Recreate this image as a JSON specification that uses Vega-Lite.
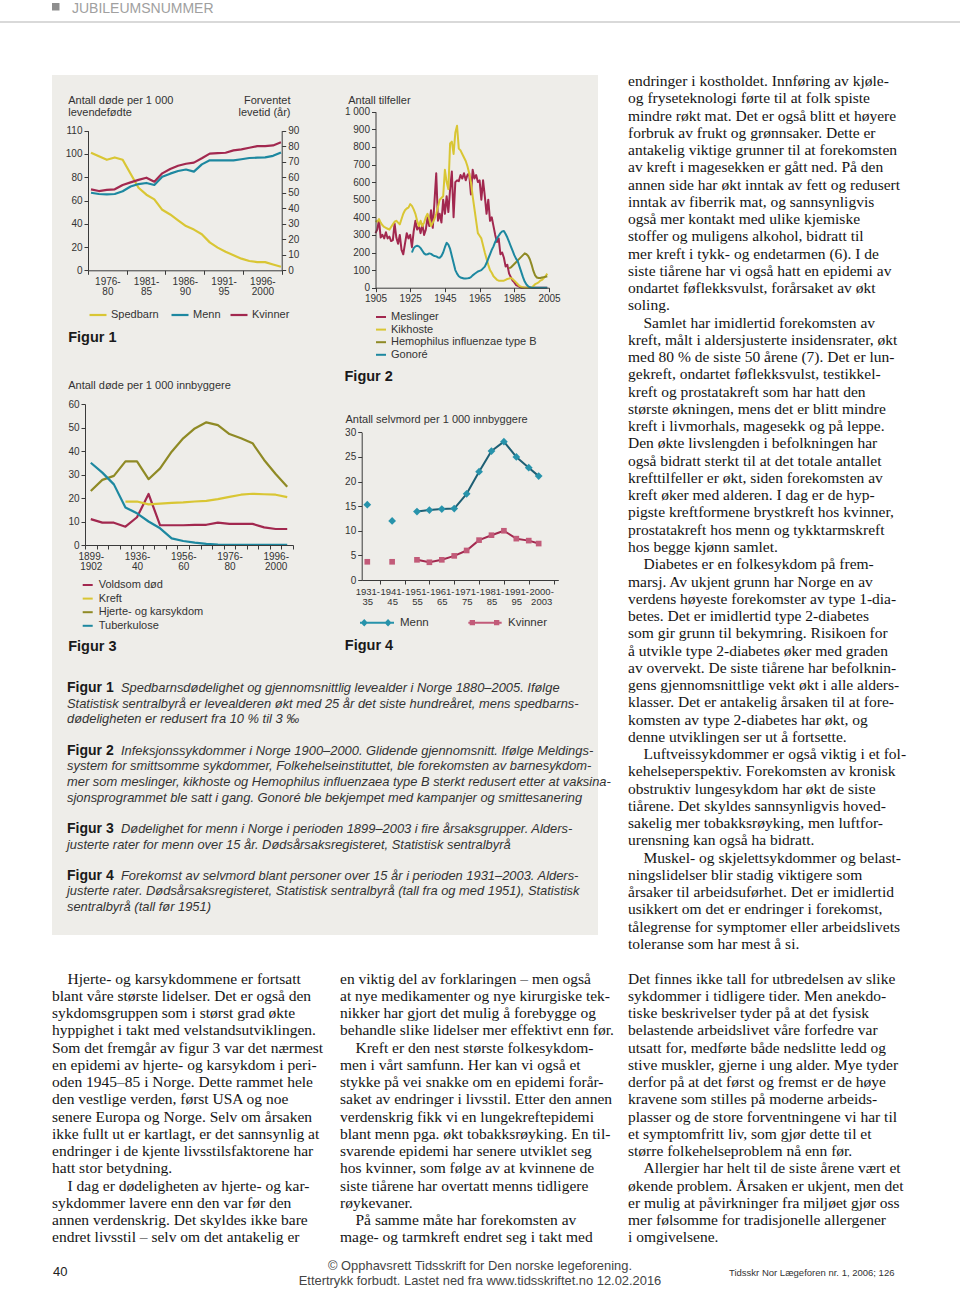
{
  "$schema": "https://vega.github.io/schema/vega-lite/v6.json",
  "width": 960,
  "height": 1289,
  "autosize": {"type": "none"},
  "padding": 0,
  "background": "#ffffff",
  "config": {
    "view": {"stroke": null},
    "axis": {"labelFont": "Liberation Sans", "labelFontSize": 10, "labelColor": "#333333", "titleFont": "Liberation Sans", "titleFontSize": 11, "titleFontWeight": "normal", "titleColor": "#333333", "domainColor": "#3a3a3a", "tickColor": "#3a3a3a", "tickSize": 4, "grid": false, "labelPadding": 2, "labelOverlap": false, "labelFlush": false, "titleAngle": 0, "titleLineHeight": 12, "labelLineHeight": 10},
    "legend": {"labelFont": "Liberation Sans", "labelFontSize": 11, "labelColor": "#333333", "padding": 0}
  },
  "datasets": {
    "fig1": [
      {"år": 1976, "Spedbarn": 101, "Menn": 50, "Kvinner": 52.2},
      {"år": 1977, "Spedbarn": 98, "Menn": 49.2, "Kvinner": 51.1},
      {"år": 1978, "Spedbarn": 95, "Menn": 49, "Kvinner": 51.8},
      {"år": 1979, "Spedbarn": 97, "Menn": 49.2, "Kvinner": 52.2},
      {"år": 1980, "Spedbarn": 95, "Menn": 51, "Kvinner": 55},
      {"år": 1981, "Spedbarn": 83, "Menn": 54, "Kvinner": 56.7},
      {"år": 1982, "Spedbarn": 71, "Menn": 55.6, "Kvinner": 58.3},
      {"år": 1983, "Spedbarn": 65, "Menn": 56.3, "Kvinner": 59.7},
      {"år": 1984, "Spedbarn": 61, "Menn": 55, "Kvinner": 57.1},
      {"år": 1985, "Spedbarn": 52, "Menn": 60.3, "Kvinner": 62.5},
      {"år": 1986, "Spedbarn": 48, "Menn": 62.3, "Kvinner": 65.3},
      {"år": 1987, "Spedbarn": 43, "Menn": 64, "Kvinner": 67.4},
      {"år": 1988, "Spedbarn": 38, "Menn": 65, "Kvinner": 68.7},
      {"år": 1989, "Spedbarn": 35, "Menn": 63.6, "Kvinner": 69.4},
      {"år": 1990, "Spedbarn": 31, "Menn": 68.3, "Kvinner": 72.2},
      {"år": 1991, "Spedbarn": 24, "Menn": 70.9, "Kvinner": 75.2},
      {"år": 1992, "Spedbarn": 19.5, "Menn": 70.9, "Kvinner": 75.6},
      {"år": 1993, "Spedbarn": 16, "Menn": 70.9, "Kvinner": 75.8},
      {"år": 1994, "Spedbarn": 13, "Menn": 70.9, "Kvinner": 77.3},
      {"år": 1995, "Spedbarn": 10, "Menn": 71.6, "Kvinner": 78},
      {"år": 1996, "Spedbarn": 8, "Menn": 72.4, "Kvinner": 79},
      {"år": 1997, "Spedbarn": 7, "Menn": 72.6, "Kvinner": 80.1},
      {"år": 1998, "Spedbarn": 7, "Menn": 72.8, "Kvinner": 80.1},
      {"år": 1999, "Spedbarn": 5, "Menn": 73.8, "Kvinner": 80.5},
      {"år": 2000, "Spedbarn": 3, "Menn": 76, "Kvinner": 82.5}
    ],
    "fig2": [
      {"år": 1905, "Meslinger": 310, "Kikhoste": 380, "Hemophilus influenzae type B": null, "Gonoré": null},
      {"år": 1906, "Meslinger": 330, "Kikhoste": 375, "Hemophilus influenzae type B": null, "Gonoré": null},
      {"år": 1907, "Meslinger": 385, "Kikhoste": 390, "Hemophilus influenzae type B": null, "Gonoré": null},
      {"år": 1908, "Meslinger": 285, "Kikhoste": 370, "Hemophilus influenzae type B": null, "Gonoré": null},
      {"år": 1909, "Meslinger": 300, "Kikhoste": 355, "Hemophilus influenzae type B": null, "Gonoré": null},
      {"år": 1910, "Meslinger": 280, "Kikhoste": 345, "Hemophilus influenzae type B": null, "Gonoré": null},
      {"år": 1911, "Meslinger": 315, "Kikhoste": 340, "Hemophilus influenzae type B": null, "Gonoré": null},
      {"år": 1912, "Meslinger": 280, "Kikhoste": 335, "Hemophilus influenzae type B": null, "Gonoré": null},
      {"år": 1913, "Meslinger": 290, "Kikhoste": 330, "Hemophilus influenzae type B": null, "Gonoré": null},
      {"år": 1914, "Meslinger": 265, "Kikhoste": 345, "Hemophilus influenzae type B": null, "Gonoré": null},
      {"år": 1915, "Meslinger": 270, "Kikhoste": 360, "Hemophilus influenzae type B": null, "Gonoré": null},
      {"år": 1916, "Meslinger": 365, "Kikhoste": 375, "Hemophilus influenzae type B": null, "Gonoré": null},
      {"år": 1917, "Meslinger": 285, "Kikhoste": 380, "Hemophilus influenzae type B": null, "Gonoré": null},
      {"år": 1918, "Meslinger": 250, "Kikhoste": 370, "Hemophilus influenzae type B": null, "Gonoré": null},
      {"år": 1919, "Meslinger": 300, "Kikhoste": 360, "Hemophilus influenzae type B": null, "Gonoré": null},
      {"år": 1920, "Meslinger": 215, "Kikhoste": 390, "Hemophilus influenzae type B": null, "Gonoré": null},
      {"år": 1921, "Meslinger": 190, "Kikhoste": 420, "Hemophilus influenzae type B": null, "Gonoré": null},
      {"år": 1922, "Meslinger": 250, "Kikhoste": 440, "Hemophilus influenzae type B": null, "Gonoré": null},
      {"år": 1923, "Meslinger": 310, "Kikhoste": 450, "Hemophilus influenzae type B": null, "Gonoré": null},
      {"år": 1924, "Meslinger": 280, "Kikhoste": 455, "Hemophilus influenzae type B": null, "Gonoré": null},
      {"år": 1925, "Meslinger": 300, "Kikhoste": 475, "Hemophilus influenzae type B": null, "Gonoré": null},
      {"år": 1926, "Meslinger": 230, "Kikhoste": 465, "Hemophilus influenzae type B": null, "Gonoré": 200},
      {"år": 1927, "Meslinger": 320, "Kikhoste": 445, "Hemophilus influenzae type B": null, "Gonoré": 225},
      {"år": 1928, "Meslinger": 380, "Kikhoste": 420, "Hemophilus influenzae type B": null, "Gonoré": 235},
      {"år": 1929, "Meslinger": 330, "Kikhoste": 380, "Hemophilus influenzae type B": null, "Gonoré": 238},
      {"år": 1930, "Meslinger": 350, "Kikhoste": 350, "Hemophilus influenzae type B": null, "Gonoré": 235},
      {"år": 1931, "Meslinger": 310, "Kikhoste": 380, "Hemophilus influenzae type B": null, "Gonoré": 225},
      {"år": 1932, "Meslinger": 360, "Kikhoste": 350, "Hemophilus influenzae type B": null, "Gonoré": 210},
      {"år": 1933, "Meslinger": 300, "Kikhoste": 370, "Hemophilus influenzae type B": null, "Gonoré": 195},
      {"år": 1934, "Meslinger": 330, "Kikhoste": 400, "Hemophilus influenzae type B": null, "Gonoré": 188},
      {"år": 1935, "Meslinger": 400, "Kikhoste": 420, "Hemophilus influenzae type B": null, "Gonoré": 190},
      {"år": 1936, "Meslinger": 350, "Kikhoste": 390, "Hemophilus influenzae type B": null, "Gonoré": 195},
      {"år": 1937, "Meslinger": 440, "Kikhoste": 350, "Hemophilus influenzae type B": null, "Gonoré": 192},
      {"år": 1938, "Meslinger": 340, "Kikhoste": 370, "Hemophilus influenzae type B": null, "Gonoré": 185},
      {"år": 1939, "Meslinger": 490, "Kikhoste": 390, "Hemophilus influenzae type B": null, "Gonoré": 180},
      {"år": 1940, "Meslinger": 650, "Kikhoste": 420, "Hemophilus influenzae type B": null, "Gonoré": 178},
      {"år": 1941, "Meslinger": 380, "Kikhoste": 460, "Hemophilus influenzae type B": null, "Gonoré": 172},
      {"år": 1942, "Meslinger": 420, "Kikhoste": 500, "Hemophilus influenzae type B": null, "Gonoré": 170},
      {"år": 1943, "Meslinger": 370, "Kikhoste": 510, "Hemophilus influenzae type B": null, "Gonoré": 180},
      {"år": 1944, "Meslinger": 500, "Kikhoste": 520, "Hemophilus influenzae type B": null, "Gonoré": 200},
      {"år": 1945, "Meslinger": 420, "Kikhoste": 670, "Hemophilus influenzae type B": null, "Gonoré": 230},
      {"år": 1946, "Meslinger": 520, "Kikhoste": 600, "Hemophilus influenzae type B": null, "Gonoré": 255},
      {"år": 1947, "Meslinger": 430, "Kikhoste": 560, "Hemophilus influenzae type B": null, "Gonoré": 245},
      {"år": 1948, "Meslinger": 560, "Kikhoste": 820, "Hemophilus influenzae type B": null, "Gonoré": 220},
      {"år": 1949, "Meslinger": 660, "Kikhoste": 830, "Hemophilus influenzae type B": null, "Gonoré": 180},
      {"år": 1950, "Meslinger": 400, "Kikhoste": 760, "Hemophilus influenzae type B": null, "Gonoré": 140},
      {"år": 1951, "Meslinger": 600, "Kikhoste": 880, "Hemophilus influenzae type B": null, "Gonoré": 100},
      {"år": 1952, "Meslinger": 610, "Kikhoste": 920, "Hemophilus influenzae type B": null, "Gonoré": 80},
      {"år": 1953, "Meslinger": 605, "Kikhoste": 790, "Hemophilus influenzae type B": null, "Gonoré": 65},
      {"år": 1954, "Meslinger": 640, "Kikhoste": 780, "Hemophilus influenzae type B": null, "Gonoré": 58},
      {"år": 1955, "Meslinger": 620, "Kikhoste": 760, "Hemophilus influenzae type B": null, "Gonoré": 55},
      {"år": 1956, "Meslinger": 650, "Kikhoste": 740, "Hemophilus influenzae type B": null, "Gonoré": 52},
      {"år": 1957, "Meslinger": 610, "Kikhoste": 720, "Hemophilus influenzae type B": null, "Gonoré": 52},
      {"år": 1958, "Meslinger": 640, "Kikhoste": 690, "Hemophilus influenzae type B": null, "Gonoré": 53},
      {"år": 1959, "Meslinger": 650, "Kikhoste": 650, "Hemophilus influenzae type B": null, "Gonoré": 55},
      {"år": 1960, "Meslinger": 530, "Kikhoste": 600, "Hemophilus influenzae type B": null, "Gonoré": 60},
      {"år": 1961, "Meslinger": 670, "Kikhoste": 520, "Hemophilus influenzae type B": null, "Gonoré": 70},
      {"år": 1962, "Meslinger": 620, "Kikhoste": 450, "Hemophilus influenzae type B": null, "Gonoré": 78},
      {"år": 1963, "Meslinger": 640, "Kikhoste": 380, "Hemophilus influenzae type B": null, "Gonoré": 85},
      {"år": 1964, "Meslinger": 600, "Kikhoste": 310, "Hemophilus influenzae type B": null, "Gonoré": 92},
      {"år": 1965, "Meslinger": 610, "Kikhoste": 295, "Hemophilus influenzae type B": null, "Gonoré": 96},
      {"år": 1966, "Meslinger": 500, "Kikhoste": 280, "Hemophilus influenzae type B": null, "Gonoré": 100},
      {"år": 1967, "Meslinger": 610, "Kikhoste": 240, "Hemophilus influenzae type B": null, "Gonoré": 110},
      {"år": 1968, "Meslinger": 520, "Kikhoste": 200, "Hemophilus influenzae type B": null, "Gonoré": 120},
      {"år": 1969, "Meslinger": 420, "Kikhoste": 165, "Hemophilus influenzae type B": null, "Gonoré": 140},
      {"år": 1970, "Meslinger": 500, "Kikhoste": 130, "Hemophilus influenzae type B": null, "Gonoré": 165},
      {"år": 1971, "Meslinger": 380, "Kikhoste": 100, "Hemophilus influenzae type B": null, "Gonoré": 190},
      {"år": 1972, "Meslinger": 400, "Kikhoste": 85, "Hemophilus influenzae type B": null, "Gonoré": 215},
      {"år": 1973, "Meslinger": 350, "Kikhoste": 65, "Hemophilus influenzae type B": null, "Gonoré": 235},
      {"år": 1974, "Meslinger": 300, "Kikhoste": 55, "Hemophilus influenzae type B": null, "Gonoré": 260},
      {"år": 1975, "Meslinger": 260, "Kikhoste": 45, "Hemophilus influenzae type B": null, "Gonoré": 280},
      {"år": 1976, "Meslinger": 280, "Kikhoste": 40, "Hemophilus influenzae type B": null, "Gonoré": 295},
      {"år": 1977, "Meslinger": 190, "Kikhoste": 40, "Hemophilus influenzae type B": null, "Gonoré": 310},
      {"år": 1978, "Meslinger": 200, "Kikhoste": 40, "Hemophilus influenzae type B": null, "Gonoré": 320},
      {"år": 1979, "Meslinger": 170, "Kikhoste": 40, "Hemophilus influenzae type B": null, "Gonoré": 322},
      {"år": 1980, "Meslinger": 120, "Kikhoste": 45, "Hemophilus influenzae type B": null, "Gonoré": 305},
      {"år": 1981, "Meslinger": 130, "Kikhoste": 50, "Hemophilus influenzae type B": null, "Gonoré": 285},
      {"år": 1982, "Meslinger": 80, "Kikhoste": 52, "Hemophilus influenzae type B": 110, "Gonoré": 260},
      {"år": 1983, "Meslinger": 60, "Kikhoste": 55, "Hemophilus influenzae type B": 115, "Gonoré": 235},
      {"år": 1984, "Meslinger": 40, "Kikhoste": 50, "Hemophilus influenzae type B": 125, "Gonoré": 210},
      {"år": 1985, "Meslinger": 30, "Kikhoste": 40, "Hemophilus influenzae type B": 135, "Gonoré": 185},
      {"år": 1986, "Meslinger": 15, "Kikhoste": 30, "Hemophilus influenzae type B": 145, "Gonoré": 165},
      {"år": 1987, "Meslinger": 10, "Kikhoste": 20, "Hemophilus influenzae type B": 155, "Gonoré": 150},
      {"år": 1988, "Meslinger": 5, "Kikhoste": 10, "Hemophilus influenzae type B": 165, "Gonoré": 120},
      {"år": 1989, "Meslinger": 0, "Kikhoste": 5, "Hemophilus influenzae type B": 175, "Gonoré": 90},
      {"år": 1990, "Meslinger": 0, "Kikhoste": 2, "Hemophilus influenzae type B": 185, "Gonoré": 60},
      {"år": 1991, "Meslinger": 0, "Kikhoste": 0, "Hemophilus influenzae type B": 195, "Gonoré": 35},
      {"år": 1992, "Meslinger": 0, "Kikhoste": 0, "Hemophilus influenzae type B": 190, "Gonoré": 18},
      {"år": 1993, "Meslinger": 0, "Kikhoste": 0, "Hemophilus influenzae type B": 180, "Gonoré": 8},
      {"år": 1994, "Meslinger": 0, "Kikhoste": 0, "Hemophilus influenzae type B": 160, "Gonoré": 2},
      {"år": 1995, "Meslinger": 0, "Kikhoste": 0, "Hemophilus influenzae type B": 130, "Gonoré": 0},
      {"år": 1996, "Meslinger": 0, "Kikhoste": 10, "Hemophilus influenzae type B": 95, "Gonoré": 0},
      {"år": 1997, "Meslinger": 0, "Kikhoste": 20, "Hemophilus influenzae type B": 70, "Gonoré": 0},
      {"år": 1998, "Meslinger": 0, "Kikhoste": 25, "Hemophilus influenzae type B": 58, "Gonoré": 0},
      {"år": 1999, "Meslinger": 0, "Kikhoste": 30, "Hemophilus influenzae type B": 55, "Gonoré": 0},
      {"år": 2000, "Meslinger": 0, "Kikhoste": 40, "Hemophilus influenzae type B": 55, "Gonoré": 0},
      {"år": 2001, "Meslinger": 0, "Kikhoste": 45, "Hemophilus influenzae type B": 58, "Gonoré": 0},
      {"år": 2002, "Meslinger": 0, "Kikhoste": 55, "Hemophilus influenzae type B": 60, "Gonoré": 0},
      {"år": 2003, "Meslinger": 0, "Kikhoste": 65, "Hemophilus influenzae type B": 62, "Gonoré": 0},
      {"år": 2004, "Meslinger": 0, "Kikhoste": 80, "Hemophilus influenzae type B": 65, "Gonoré": 0}
    ],
    "fig3": [
      {"periode": "1899-1902", "Voldsom død": 11, "Kreft": null, "Hjerte- og karsykdom": 23, "Tuberkulose": 35},
      {"periode": "1911-15", "Voldsom død": 9.5, "Kreft": null, "Hjerte- og karsykdom": 27.7, "Tuberkulose": 30.8},
      {"periode": "1921-25", "Voldsom død": 9.5, "Kreft": null, "Hjerte- og karsykdom": 29.4, "Tuberkulose": 25.8},
      {"periode": "1931-35", "Voldsom død": 7.8, "Kreft": 18.5, "Hjerte- og karsykdom": 35.6, "Tuberkulose": 16},
      {"periode": "1936-40", "Voldsom død": 11.8, "Kreft": 18.5, "Hjerte- og karsykdom": 35.6, "Tuberkulose": 13.5},
      {"periode": "1941-45", "Voldsom død": 21.7, "Kreft": 17.3, "Hjerte- og karsykdom": 28, "Tuberkulose": 10},
      {"periode": "1946-50", "Voldsom død": 8.4, "Kreft": 17.6, "Hjerte- og karsykdom": 32.6, "Tuberkulose": 7.1},
      {"periode": "1951-55", "Voldsom død": 8.4, "Kreft": 17.9, "Hjerte- og karsykdom": 39.7, "Tuberkulose": 2.8},
      {"periode": "1956-60", "Voldsom død": 8.4, "Kreft": 18.1, "Hjerte- og karsykdom": 45.4, "Tuberkulose": 1.7},
      {"periode": "1961-65", "Voldsom død": 8.6, "Kreft": 18.5, "Hjerte- og karsykdom": 49.6, "Tuberkulose": 1},
      {"periode": "1966-70", "Voldsom død": 8.6, "Kreft": 18.8, "Hjerte- og karsykdom": 52.2, "Tuberkulose": 0.5},
      {"periode": "1971-75", "Voldsom død": 9.5, "Kreft": 19.5, "Hjerte- og karsykdom": 51, "Tuberkulose": 0.2},
      {"periode": "1976-80", "Voldsom død": 9, "Kreft": 20.5, "Hjerte- og karsykdom": 47.2, "Tuberkulose": 0.1},
      {"periode": "1981-85", "Voldsom død": 9, "Kreft": 21.4, "Hjerte- og karsykdom": 45.4, "Tuberkulose": 0.1},
      {"periode": "1986-90", "Voldsom død": 9, "Kreft": 21.8, "Hjerte- og karsykdom": 43.3, "Tuberkulose": 0.1},
      {"periode": "1991-95", "Voldsom død": 7.5, "Kreft": 21.6, "Hjerte- og karsykdom": 36.2, "Tuberkulose": 0.1},
      {"periode": "1996-2000", "Voldsom død": 6.8, "Kreft": 21.4, "Hjerte- og karsykdom": 30.2, "Tuberkulose": 0.1},
      {"periode": "2001-03", "Voldsom død": 6.8, "Kreft": 20.4, "Hjerte- og karsykdom": 24.8, "Tuberkulose": 0.1}
    ],
    "fig4": [
      {"start": 1931, "periode": "1931-35", "Menn": 15.3, "Kvinner": 3.7},
      {"start": 1941, "periode": "1941-45", "Menn": 12, "Kvinner": 3.7},
      {"start": 1951, "periode": "1951-55", "Menn": 13.9, "Kvinner": 4.1},
      {"start": 1956, "periode": "1956-60", "Menn": 14.2, "Kvinner": 3.6},
      {"start": 1961, "periode": "1961-65", "Menn": 14.4, "Kvinner": 4.1},
      {"start": 1966, "periode": "1966-70", "Menn": 14.5, "Kvinner": 4.9},
      {"start": 1971, "periode": "1971-75", "Menn": 17.5, "Kvinner": 6},
      {"start": 1976, "periode": "1976-80", "Menn": 22, "Kvinner": 8.1},
      {"start": 1981, "periode": "1981-85", "Menn": 26.2, "Kvinner": 9.1},
      {"start": 1986, "periode": "1986-90", "Menn": 28.1, "Kvinner": 10},
      {"start": 1991, "periode": "1991-95", "Menn": 25, "Kvinner": 8.4},
      {"start": 1996, "periode": "1996-99", "Menn": 22.8, "Kvinner": 8},
      {"start": 2000, "periode": "2000-2003", "Menn": 21.1, "Kvinner": 7.4}
    ],
    "brodtekst": [
      {"spalte": 2, "linje": 0, "avsnitt": false, "tekst": "endringer i kostholdet. Innføring av kjøle-"},
      {"spalte": 2, "linje": 1, "avsnitt": false, "tekst": "og fryseteknologi førte til at folk spiste"},
      {"spalte": 2, "linje": 2, "avsnitt": false, "tekst": "mindre røkt mat. Det er også blitt et høyere"},
      {"spalte": 2, "linje": 3, "avsnitt": false, "tekst": "forbruk av frukt og grønnsaker. Dette er"},
      {"spalte": 2, "linje": 4, "avsnitt": false, "tekst": "antakelig viktige grunner til at forekomsten"},
      {"spalte": 2, "linje": 5, "avsnitt": false, "tekst": "av kreft i magesekken er gått ned. På den"},
      {"spalte": 2, "linje": 6, "avsnitt": false, "tekst": "annen side har økt inntak av fett og redusert"},
      {"spalte": 2, "linje": 7, "avsnitt": false, "tekst": "inntak av fiberrik mat, og sannsynligvis"},
      {"spalte": 2, "linje": 8, "avsnitt": false, "tekst": "også mer kontakt med ulike kjemiske"},
      {"spalte": 2, "linje": 9, "avsnitt": false, "tekst": "stoffer og muligens alkohol, bidratt til"},
      {"spalte": 2, "linje": 10, "avsnitt": false, "tekst": "mer kreft i tykk- og endetarmen (6). I de"},
      {"spalte": 2, "linje": 11, "avsnitt": false, "tekst": "siste tiårene har vi også hatt en epidemi av"},
      {"spalte": 2, "linje": 12, "avsnitt": false, "tekst": "ondartet føflekksvulst, forårsaket av økt"},
      {"spalte": 2, "linje": 13, "avsnitt": false, "tekst": "soling."},
      {"spalte": 2, "linje": 14, "avsnitt": true, "tekst": "Samlet har imidlertid forekomsten av"},
      {"spalte": 2, "linje": 15, "avsnitt": false, "tekst": "kreft, målt i aldersjusterte insidensrater, økt"},
      {"spalte": 2, "linje": 16, "avsnitt": false, "tekst": "med 80 % de siste 50 årene (7). Det er lun-"},
      {"spalte": 2, "linje": 17, "avsnitt": false, "tekst": "gekreft, ondartet føflekksvulst, testikkel-"},
      {"spalte": 2, "linje": 18, "avsnitt": false, "tekst": "kreft og prostatakreft som har hatt den"},
      {"spalte": 2, "linje": 19, "avsnitt": false, "tekst": "største økningen, mens det er blitt mindre"},
      {"spalte": 2, "linje": 20, "avsnitt": false, "tekst": "kreft i livmorhals, magesekk og på leppe."},
      {"spalte": 2, "linje": 21, "avsnitt": false, "tekst": "Den økte livslengden i befolkningen har"},
      {"spalte": 2, "linje": 22, "avsnitt": false, "tekst": "også bidratt sterkt til at det totale antallet"},
      {"spalte": 2, "linje": 23, "avsnitt": false, "tekst": "krefttilfeller er økt, siden forekomsten av"},
      {"spalte": 2, "linje": 24, "avsnitt": false, "tekst": "kreft øker med alderen. I dag er de hyp-"},
      {"spalte": 2, "linje": 25, "avsnitt": false, "tekst": "pigste kreftformene brystkreft hos kvinner,"},
      {"spalte": 2, "linje": 26, "avsnitt": false, "tekst": "prostatakreft hos menn og tykktarmskreft"},
      {"spalte": 2, "linje": 27, "avsnitt": false, "tekst": "hos begge kjønn samlet."},
      {"spalte": 2, "linje": 28, "avsnitt": true, "tekst": "Diabetes er en folkesykdom på frem-"},
      {"spalte": 2, "linje": 29, "avsnitt": false, "tekst": "marsj. Av ukjent grunn har Norge en av"},
      {"spalte": 2, "linje": 30, "avsnitt": false, "tekst": "verdens høyeste forekomster av type 1-dia-"},
      {"spalte": 2, "linje": 31, "avsnitt": false, "tekst": "betes. Det er imidlertid type 2-diabetes"},
      {"spalte": 2, "linje": 32, "avsnitt": false, "tekst": "som gir grunn til bekymring. Risikoen for"},
      {"spalte": 2, "linje": 33, "avsnitt": false, "tekst": "å utvikle type 2-diabetes øker med graden"},
      {"spalte": 2, "linje": 34, "avsnitt": false, "tekst": "av overvekt. De siste tiårene har befolknin-"},
      {"spalte": 2, "linje": 35, "avsnitt": false, "tekst": "gens gjennomsnittlige vekt økt i alle alders-"},
      {"spalte": 2, "linje": 36, "avsnitt": false, "tekst": "klasser. Det er antakelig årsaken til at fore-"},
      {"spalte": 2, "linje": 37, "avsnitt": false, "tekst": "komsten av type 2-diabetes har økt, og"},
      {"spalte": 2, "linje": 38, "avsnitt": false, "tekst": "denne utviklingen ser ut å fortsette."},
      {"spalte": 2, "linje": 39, "avsnitt": true, "tekst": "Luftveissykdommer er også viktig i et fol-"},
      {"spalte": 2, "linje": 40, "avsnitt": false, "tekst": "kehelseperspektiv. Forekomsten av kronisk"},
      {"spalte": 2, "linje": 41, "avsnitt": false, "tekst": "obstruktiv lungesykdom har økt de siste"},
      {"spalte": 2, "linje": 42, "avsnitt": false, "tekst": "tiårene. Det skyldes sannsynligvis hoved-"},
      {"spalte": 2, "linje": 43, "avsnitt": false, "tekst": "sakelig mer tobakksrøyking, men luftfor-"},
      {"spalte": 2, "linje": 44, "avsnitt": false, "tekst": "urensning kan også ha bidratt."},
      {"spalte": 2, "linje": 45, "avsnitt": true, "tekst": "Muskel- og skjelettsykdommer og belast-"},
      {"spalte": 2, "linje": 46, "avsnitt": false, "tekst": "ningslidelser blir stadig viktigere som"},
      {"spalte": 2, "linje": 47, "avsnitt": false, "tekst": "årsaker til arbeidsuførhet. Det er imidlertid"},
      {"spalte": 2, "linje": 48, "avsnitt": false, "tekst": "usikkert om det er endringer i forekomst,"},
      {"spalte": 2, "linje": 49, "avsnitt": false, "tekst": "tålegrense for symptomer eller arbeidslivets"},
      {"spalte": 2, "linje": 50, "avsnitt": false, "tekst": "toleranse som har mest å si."},
      {"spalte": 0, "linje": 52, "avsnitt": true, "tekst": "Hjerte- og karsykdommene er fortsatt"},
      {"spalte": 0, "linje": 53, "avsnitt": false, "tekst": "blant våre største lidelser. Det er også den"},
      {"spalte": 0, "linje": 54, "avsnitt": false, "tekst": "sykdomsgruppen som i størst grad økte"},
      {"spalte": 0, "linje": 55, "avsnitt": false, "tekst": "hyppighet i takt med velstandsutviklingen."},
      {"spalte": 0, "linje": 56, "avsnitt": false, "tekst": "Som det fremgår av figur 3 var det nærmest"},
      {"spalte": 0, "linje": 57, "avsnitt": false, "tekst": "en epidemi av hjerte- og karsykdom i peri-"},
      {"spalte": 0, "linje": 58, "avsnitt": false, "tekst": "oden 1945–85 i Norge. Dette rammet hele"},
      {"spalte": 0, "linje": 59, "avsnitt": false, "tekst": "den vestlige verden, først USA og noe"},
      {"spalte": 0, "linje": 60, "avsnitt": false, "tekst": "senere Europa og Norge. Selv om årsaken"},
      {"spalte": 0, "linje": 61, "avsnitt": false, "tekst": "ikke fullt ut er kartlagt, er det sannsynlig at"},
      {"spalte": 0, "linje": 62, "avsnitt": false, "tekst": "endringer i de kjente livsstilsfaktorene har"},
      {"spalte": 0, "linje": 63, "avsnitt": false, "tekst": "hatt stor betydning."},
      {"spalte": 0, "linje": 64, "avsnitt": true, "tekst": "I dag er dødeligheten av hjerte- og kar-"},
      {"spalte": 0, "linje": 65, "avsnitt": false, "tekst": "sykdommer lavere enn den var før den"},
      {"spalte": 0, "linje": 66, "avsnitt": false, "tekst": "annen verdenskrig. Det skyldes ikke bare"},
      {"spalte": 0, "linje": 67, "avsnitt": false, "tekst": "endret livsstil – selv om det antakelig er"},
      {"spalte": 1, "linje": 52, "avsnitt": false, "tekst": "en viktig del av forklaringen – men også"},
      {"spalte": 1, "linje": 53, "avsnitt": false, "tekst": "at nye medikamenter og nye kirurgiske tek-"},
      {"spalte": 1, "linje": 54, "avsnitt": false, "tekst": "nikker har gjort det mulig å forebygge og"},
      {"spalte": 1, "linje": 55, "avsnitt": false, "tekst": "behandle slike lidelser mer effektivt enn før."},
      {"spalte": 1, "linje": 56, "avsnitt": true, "tekst": "Kreft er den nest største folkesykdom-"},
      {"spalte": 1, "linje": 57, "avsnitt": false, "tekst": "men i vårt samfunn. Her kan vi også et"},
      {"spalte": 1, "linje": 58, "avsnitt": false, "tekst": "stykke på vei snakke om en epidemi forår-"},
      {"spalte": 1, "linje": 59, "avsnitt": false, "tekst": "saket av endringer i livsstil. Etter den annen"},
      {"spalte": 1, "linje": 60, "avsnitt": false, "tekst": "verdenskrig fikk vi en lungekreftepidemi"},
      {"spalte": 1, "linje": 61, "avsnitt": false, "tekst": "blant menn pga. økt tobakksrøyking. En til-"},
      {"spalte": 1, "linje": 62, "avsnitt": false, "tekst": "svarende epidemi har senere utviklet seg"},
      {"spalte": 1, "linje": 63, "avsnitt": false, "tekst": "hos kvinner, som følge av at kvinnene de"},
      {"spalte": 1, "linje": 64, "avsnitt": false, "tekst": "siste tiårene har overtatt menns tidligere"},
      {"spalte": 1, "linje": 65, "avsnitt": false, "tekst": "røykevaner."},
      {"spalte": 1, "linje": 66, "avsnitt": true, "tekst": "På samme måte har forekomsten av"},
      {"spalte": 1, "linje": 67, "avsnitt": false, "tekst": "mage- og tarmkreft endret seg i takt med"},
      {"spalte": 2, "linje": 52, "avsnitt": false, "tekst": "Det finnes ikke tall for utbredelsen av slike"},
      {"spalte": 2, "linje": 53, "avsnitt": false, "tekst": "sykdommer i tidligere tider. Men anekdo-"},
      {"spalte": 2, "linje": 54, "avsnitt": false, "tekst": "tiske beskrivelser tyder på at det fysisk"},
      {"spalte": 2, "linje": 55, "avsnitt": false, "tekst": "belastende arbeidslivet våre forfedre var"},
      {"spalte": 2, "linje": 56, "avsnitt": false, "tekst": "utsatt for, medførte både nedslitte ledd og"},
      {"spalte": 2, "linje": 57, "avsnitt": false, "tekst": "stive muskler, gjerne i ung alder. Mye tyder"},
      {"spalte": 2, "linje": 58, "avsnitt": false, "tekst": "derfor på at det først og fremst er de høye"},
      {"spalte": 2, "linje": 59, "avsnitt": false, "tekst": "kravene som stilles på moderne arbeids-"},
      {"spalte": 2, "linje": 60, "avsnitt": false, "tekst": "plasser og de store forventningene vi har til"},
      {"spalte": 2, "linje": 61, "avsnitt": false, "tekst": "et symptomfritt liv, som gjør dette til et"},
      {"spalte": 2, "linje": 62, "avsnitt": false, "tekst": "større folkehelseproblem nå enn før."},
      {"spalte": 2, "linje": 63, "avsnitt": true, "tekst": "Allergier har helt til de siste årene vært et"},
      {"spalte": 2, "linje": 64, "avsnitt": false, "tekst": "økende problem. Årsaken er ukjent, men det"},
      {"spalte": 2, "linje": 65, "avsnitt": false, "tekst": "er mulig at påvirkninger fra miljøet gjør oss"},
      {"spalte": 2, "linje": 66, "avsnitt": false, "tekst": "mer følsomme for tradisjonelle allergener"},
      {"spalte": 2, "linje": 67, "avsnitt": false, "tekst": "i omgivelsene."}
    ],
    "bildetekst": [
      {"figur": "Figur 1", "linje": 0, "rad": 0, "tekst": "Spedbarnsdødelighet og gjennomsnittlig levealder i Norge 1880–2005. Ifølge"},
      {"figur": "Figur 1", "linje": 1, "rad": 1, "tekst": "Statistisk sentralbyrå er levealderen økt med 25 år det siste hundreåret, mens spedbarns-"},
      {"figur": "Figur 1", "linje": 2, "rad": 2, "tekst": "dødeligheten er redusert fra 10 % til 3 ‰"},
      {"figur": "Figur 2", "linje": 0, "rad": 4, "tekst": "Infeksjonssykdommer i Norge 1900–2000. Glidende gjennomsnitt. Ifølge Meldings-"},
      {"figur": "Figur 2", "linje": 1, "rad": 5, "tekst": "system for smittsomme sykdommer, Folkehelseinstituttet, ble forekomsten av barnesykdom-"},
      {"figur": "Figur 2", "linje": 2, "rad": 6, "tekst": "mer som meslinger, kikhoste og Hemophilus influenzaea type B sterkt redusert etter at vaksina-"},
      {"figur": "Figur 2", "linje": 3, "rad": 7, "tekst": "sjonsprogrammet ble satt i gang. Gonoré ble bekjempet med kampanjer og smittesanering"},
      {"figur": "Figur 3", "linje": 0, "rad": 9, "tekst": "Dødelighet for menn i Norge i perioden 1899–2003 i fire årsaksgrupper. Alders-"},
      {"figur": "Figur 3", "linje": 1, "rad": 10, "tekst": "justerte rater for menn over 15 år. Dødsårsaksregisteret, Statistisk sentralbyrå"},
      {"figur": "Figur 4", "linje": 0, "rad": 12, "tekst": "Forekomst av selvmord blant personer over 15 år i perioden 1931–2003. Alders-"},
      {"figur": "Figur 4", "linje": 1, "rad": 13, "tekst": "justerte rater. Dødsårsaksregisteret, Statistisk sentralbyrå (tall fra og med 1951), Statistisk"},
      {"figur": "Figur 4", "linje": 2, "rad": 14, "tekst": "sentralbyrå (tall før 1951)"}
    ],
    "sidefot": [
      {"felt": "side", "linje": 0, "tekst": "40"},
      {"felt": "midt", "linje": 0, "tekst": "© Opphavsrett Tidsskrift for Den norske legeforening."},
      {"felt": "midt", "linje": 1, "tekst": "Ettertrykk forbudt. Lastet ned fra www.tidsskriftet.no 12.02.2016"},
      {"felt": "ref", "linje": 0, "tekst": "Tidsskr Nor Lægeforen nr. 1, 2006; 126"}
    ]
  },
  "resolve": {
    "scale": {"x": "independent", "y": "independent", "color": "independent"},
    "axis": {"x": "independent", "y": "independent"},
    "legend": {"color": "independent"}
  },
  "layer": [
    {
      "data": {"values": [{"felt": "figurramme"}]},
      "mark": {"type": "rect", "color": "#eeede9"},
      "encoding": {
        "x": {"datum": 0, "type": "quantitative", "scale": {"domain": [0, 1], "range": [52, 598]}, "axis": null},
        "x2": {"datum": 1},
        "y": {"datum": 0, "type": "quantitative", "scale": {"domain": [0, 1], "range": [75, 935]}, "axis": null},
        "y2": {"datum": 1}
      }
    },
    {
      "data": {"values": [{"felt": "topplinje"}]},
      "mark": {"type": "rule", "color": "#b4b4b4", "strokeWidth": 1.2},
      "encoding": {
        "x": {"datum": 0, "type": "quantitative", "scale": {"domain": [0, 1], "range": [0, 960]}, "axis": null},
        "x2": {"datum": 1},
        "y": {"datum": 0, "type": "quantitative", "scale": {"domain": [0, 1], "range": [22, 23]}, "axis": null}
      }
    },
    {
      "data": {"values": [{"felt": "toppmerke"}]},
      "mark": {"type": "rect", "color": "#8e8e8e"},
      "encoding": {
        "x": {"datum": 0, "type": "quantitative", "scale": {"domain": [0, 1], "range": [52, 59.5]}, "axis": null},
        "x2": {"datum": 1},
        "y": {"datum": 0, "type": "quantitative", "scale": {"domain": [0, 1], "range": [3, 10.5]}, "axis": null},
        "y2": {"datum": 1}
      }
    },
    {
      "data": {"values": [{"tekst": "JUBILEUMSNUMMER"}]},
      "mark": {"type": "text", "align": "left", "baseline": "alphabetic", "font": "Liberation Sans", "fontSize": 14, "color": "#a0a0a0"},
      "encoding": {
        "x": {"datum": 0, "type": "quantitative", "scale": {"domain": [0, 1], "range": [72, 73]}, "axis": null},
        "y": {"datum": 0, "type": "quantitative", "scale": {"domain": [0, 1], "range": [12.5, 13.5]}, "axis": null},
        "text": {"field": "tekst"}
      }
    },
    {
      "data": {"name": "fig1"},
      "transform": [{"fold": ["Spedbarn"], "as": ["serie", "verdi"]}],
      "mark": {"type": "line", "strokeWidth": 2.2, "strokeJoin": "round"},
      "encoding": {
        "x": {"field": "år", "type": "quantitative",
          "scale": {"domain": [1975.62, 2000.09], "range": [88, 281.7], "nice": false, "zero": false},
          "axis": {"zindex": 1, "orient": "bottom", "offset": -1018.7, "values": [1975.62, 1980.51, 1985.41, 1990.3, 1995.2, 2000.09], "labelOffset": 19.4,
            "labelExpr": "datum.value < 1979 ? ['1976-', '80'] : datum.value < 1984 ? ['1981-', '85'] : datum.value < 1989 ? ['1986-', '90'] : datum.value < 1994 ? ['1991-', '95'] : datum.value < 1999 ? ['1996-', '2000'] : ''",
            "title": "Figur 1", "titleX": 67.7, "titleY": 67, "titleAlign": "left", "titleBaseline": "middle", "titleFontSize": 14.5, "titleFontWeight": "bold", "titleColor": "#1a1a1a"}},
        "y": {"field": "verdi", "type": "quantitative",
          "scale": {"domain": [0, 120], "range": [270.3, 130.7], "nice": false, "zero": false},
          "axis": {"zindex": 1, "orient": "left", "offset": -88, "values": [0, 20, 40, 60, 80, 100, 120], "labelExpr": "datum.value == 120 ? '110' : datum.label",
            "title": ["Antall døde per 1 000", "levendefødte"], "titleX": -20.3, "titleY": 94.5, "titleAlign": "left", "titleBaseline": "top"}},
        "color": {"field": "serie", "type": "nominal", "scale": {"domain": ["Spedbarn"], "range": ["#d9c634"]},
          "legend": {"title": null, "orient": "none", "legendX": 88, "legendY": 305, "symbolType": "stroke", "symbolSize": 289, "symbolStrokeWidth": 2.2, "labelOffset": 3}}
      }
    },
    {
      "data": {"name": "fig1"},
      "transform": [{"fold": ["Menn", "Kvinner"], "as": ["serie", "verdi"]}],
      "mark": {"type": "line", "strokeWidth": 2.2, "strokeJoin": "round"},
      "encoding": {
        "x": {"field": "år", "type": "quantitative",
          "scale": {"domain": [1975.62, 2000.09], "range": [88, 281.7], "nice": false, "zero": false}, "axis": null},
        "y": {"field": "verdi", "type": "quantitative",
          "scale": {"domain": [0, 90], "range": [270.3, 130.7], "nice": false, "zero": false},
          "axis": {"zindex": 1, "orient": "right", "offset": -678.3, "values": [0, 10, 20, 30, 40, 50, 60, 70, 80, 90],
            "title": ["Forventet", "levetid (år)"], "titleX": 8.3, "titleY": 94.5, "titleAlign": "right", "titleBaseline": "top"}},
        "color": {"field": "serie", "type": "nominal", "scale": {"domain": ["Menn", "Kvinner"], "range": ["#1d88a0", "#a2284f"]},
          "legend": {"title": null, "orient": "none", "direction": "horizontal", "legendX": 170, "legendY": 305, "symbolType": "stroke", "symbolSize": 289, "symbolStrokeWidth": 2.2, "labelOffset": 3, "columnPadding": 5}}
      }
    },
    {
      "data": {"name": "fig2"},
      "transform": [{"fold": ["Meslinger", "Kikhoste", "Hemophilus influenzae type B", "Gonoré"], "as": ["serie", "antall"]}],
      "mark": {"type": "line", "strokeWidth": 2, "strokeJoin": "round"},
      "encoding": {
        "x": {"field": "år", "type": "quantitative",
          "scale": {"domain": [1905, 2005], "range": [375.5, 549], "nice": false, "zero": false},
          "axis": {"zindex": 1, "orient": "bottom", "offset": -1001.3, "values": [1905, 1925, 1945, 1965, 1985, 2005], "format": "d",
            "title": "Figur 2", "titleX": 344, "titleY": 88.3, "titleAlign": "left", "titleBaseline": "middle", "titleFontSize": 14.5, "titleFontWeight": "bold", "titleColor": "#1a1a1a"}},
        "y": {"field": "antall", "type": "quantitative",
          "scale": {"domain": [0, 1000], "range": [287.7, 111.7], "nice": false, "zero": false},
          "axis": {"zindex": 1, "orient": "left", "offset": -375.5, "values": [0, 100, 200, 300, 400, 500, 600, 700, 800, 900, 1000], "labelExpr": "datum.value == 1000 ? '1 000' : datum.label",
            "title": "Antall tilfeller", "titleX": -27.8, "titleY": 94.5, "titleAlign": "left", "titleBaseline": "top"}},
        "color": {"field": "serie", "type": "nominal",
          "scale": {"domain": ["Meslinger", "Kikhoste", "Hemophilus influenzae type B", "Gonoré"], "range": ["#a2284f", "#d9c634", "#8f8a25", "#1d88a0"]},
          "legend": {"title": null, "orient": "none", "legendX": 375, "legendY": 311, "symbolType": "stroke", "symbolSize": 100, "symbolStrokeWidth": 2, "rowPadding": 1.6, "labelOffset": 4}}
      }
    },
    {
      "data": {"name": "fig3"},
      "transform": [{"fold": ["Voldsom død", "Kreft", "Hjerte- og karsykdom", "Tuberkulose"], "as": ["årsak", "rate"]}],
      "mark": {"type": "line", "strokeWidth": 2.2, "strokeJoin": "round"},
      "encoding": {
        "x": {"field": "periode", "type": "ordinal",
          "scale": {"type": "band", "domain": ["1899-1902", "1911-15", "1921-25", "1931-35", "1936-40", "1941-45", "1946-50", "1951-55", "1956-60", "1961-65", "1966-70", "1971-75", "1976-80", "1981-85", "1986-90", "1991-95", "1996-2000", "2001-03"], "range": [85, 293], "paddingInner": 0, "paddingOuter": 0},
          "axis": {"zindex": 1, "orient": "bottom", "offset": -744, "tickBand": "extent", "labelAngle": 0,
            "labelExpr": "indexof(['1899-1902', '1936-40', '1956-60', '1976-80', '1996-2000'], datum.value) >= 0 ? [slice(datum.value, 0, 5), slice(datum.value, 5)] : ''",
            "title": "Figur 3", "titleX": 67.7, "titleY": 101.7, "titleAlign": "left", "titleBaseline": "middle", "titleFontSize": 14.5, "titleFontWeight": "bold", "titleColor": "#1a1a1a"}},
        "y": {"field": "rate", "type": "quantitative",
          "scale": {"domain": [0, 60], "range": [545, 404], "nice": false, "zero": false},
          "axis": {"zindex": 1, "orient": "left", "offset": -85, "values": [0, 10, 20, 30, 40, 50, 60],
            "title": "Antall døde per 1 000 innbyggere", "titleX": -17.3, "titleY": 379, "titleAlign": "left", "titleBaseline": "top"}},
        "color": {"field": "årsak", "type": "nominal",
          "scale": {"domain": ["Voldsom død", "Kreft", "Hjerte- og karsykdom", "Tuberkulose"], "range": ["#a2284f", "#d9c634", "#8f8a25", "#1d88a0"]},
          "legend": {"title": null, "orient": "none", "legendX": 81.7, "legendY": 579, "symbolType": "stroke", "symbolSize": 100, "symbolStrokeWidth": 2, "rowPadding": 2.6, "labelOffset": 5}}
      }
    },
    {
      "data": {"name": "fig4"},
      "transform": [{"fold": ["Menn", "Kvinner"], "as": ["kjønn", "rate"]}, {"filter": "datum.start >= 1951"}],
      "mark": {"type": "line", "strokeWidth": 2, "strokeJoin": "round"},
      "encoding": {
        "x": {"field": "start", "type": "quantitative",
          "scale": {"domain": [1928.75, 2007.9], "range": [361.7, 558.3], "nice": false, "zero": false},
          "axis": {"zindex": 1, "orient": "bottom", "offset": -709, "values": [1936, 1946, 1956, 1966, 1976, 1986, 1996, 2006], "labelOffset": -12.4, "labelFontSize": 9.5,
            "labelExpr": "datum.value == 1936 ? ['1931-', '35'] : datum.value == 1946 ? ['1941-', '45'] : datum.value == 1956 ? ['1951-', '55'] : datum.value == 1966 ? ['1961-', '65'] : datum.value == 1976 ? ['1971-', '75'] : datum.value == 1986 ? ['1981-', '85'] : datum.value == 1996 ? ['1991-', '95'] : ['2000-', '2003']",
            "title": "Figur 4", "titleX": 344.3, "titleY": 65.7, "titleAlign": "left", "titleBaseline": "middle", "titleFontSize": 14.5, "titleFontWeight": "bold", "titleColor": "#1a1a1a"}},
        "y": {"field": "rate", "type": "quantitative",
          "scale": {"domain": [0, 30], "range": [580, 432.3], "nice": false, "zero": false},
          "axis": {"zindex": 1, "orient": "left", "offset": -361.7, "values": [0, 5, 10, 15, 20, 25, 30],
            "title": "Antall selvmord per 1 000 innbyggere", "titleX": -16.7, "titleY": 413, "titleAlign": "left", "titleBaseline": "top"}},
        "color": {"field": "kjønn", "type": "nominal", "scale": {"domain": ["Menn", "Kvinner"], "range": ["#1e5f74", "#a3294f"]}, "legend": null}
      }
    },
    {
      "data": {"name": "fig4"},
      "transform": [{"fold": ["Menn"], "as": ["kjønn", "rate"]}],
      "mark": {"type": "point", "shape": "diamond", "filled": true, "size": 60, "opacity": 1},
      "encoding": {
        "x": {"field": "start", "type": "quantitative", "scale": {"domain": [1928.75, 2007.9], "range": [361.7, 558.3], "nice": false, "zero": false}, "axis": null},
        "y": {"field": "rate", "type": "quantitative", "scale": {"domain": [0, 30], "range": [580, 432.3], "nice": false, "zero": false}, "axis": null},
        "color": {"field": "kjønn", "type": "nominal", "scale": {"domain": ["Menn"], "range": ["#2793ab"]},
          "legend": {"title": null, "orient": "none", "legendX": 360, "legendY": 605.7, "symbolType": "M-1,-0.06L1,-0.06L1,0.06L-1,0.06Z M-0.96,0L-0.75,-0.22L-0.54,0L-0.75,0.22Z M0.44,0L0.65,-0.22L0.86,0L0.65,0.22Z", "symbolSize": 1156, "symbolStrokeWidth": 0, "labelOffset": 6, "labelFontSize": 11.5}}
      }
    },
    {
      "data": {"name": "fig4"},
      "transform": [{"fold": ["Kvinner"], "as": ["kjønn", "rate"]}],
      "mark": {"type": "point", "shape": "square", "filled": true, "size": 32, "opacity": 1},
      "encoding": {
        "x": {"field": "start", "type": "quantitative", "scale": {"domain": [1928.75, 2007.9], "range": [361.7, 558.3], "nice": false, "zero": false}, "axis": null},
        "y": {"field": "rate", "type": "quantitative", "scale": {"domain": [0, 30], "range": [580, 432.3], "nice": false, "zero": false}, "axis": null},
        "color": {"field": "kjønn", "type": "nominal", "scale": {"domain": ["Kvinner"], "range": ["#c25b79"]},
          "legend": {"title": null, "orient": "none", "legendX": 468, "legendY": 605.7, "symbolType": "M-1,-0.06L1,-0.06L1,0.06L-1,0.06Z M-0.92,-0.16L-0.6,-0.16L-0.6,0.16L-0.92,0.16Z M0.54,-0.16L0.86,-0.16L0.86,0.16L0.54,0.16Z", "symbolSize": 1110, "symbolStrokeWidth": 0, "labelOffset": 6, "labelFontSize": 11.5}}
      }
    },
    {
      "data": {"name": "bildetekst"},
      "transform": [{"filter": "datum.linje == 0"}],
      "mark": {"type": "text", "align": "left", "baseline": "middle", "font": "Liberation Sans", "fontSize": 14, "fontWeight": "bold", "color": "#1a1a1a"},
      "encoding": {
        "x": {"datum": 0, "type": "quantitative", "scale": {"domain": [0, 1], "range": [67, 568]}, "axis": null},
        "y": {"field": "rad", "type": "quantitative", "scale": {"domain": [0, 14], "range": [688, 907.1], "nice": false, "zero": false}, "axis": null},
        "text": {"field": "figur"}
      }
    },
    {
      "data": {"name": "bildetekst"},
      "transform": [{"filter": "datum.linje == 0"}],
      "mark": {"type": "text", "align": "left", "baseline": "middle", "font": "Liberation Sans", "fontSize": 12.9, "fontStyle": "italic", "color": "#333333", "dx": 54},
      "encoding": {
        "x": {"datum": 0, "type": "quantitative", "scale": {"domain": [0, 1], "range": [67, 568]}, "axis": null},
        "y": {"field": "rad", "type": "quantitative", "scale": {"domain": [0, 14], "range": [688, 907.1], "nice": false, "zero": false}, "axis": null},
        "text": {"field": "tekst"}
      }
    },
    {
      "data": {"name": "bildetekst"},
      "transform": [{"filter": "datum.linje > 0"}],
      "mark": {"type": "text", "align": "left", "baseline": "middle", "font": "Liberation Sans", "fontSize": 12.9, "fontStyle": "italic", "color": "#333333"},
      "encoding": {
        "x": {"datum": 0, "type": "quantitative", "scale": {"domain": [0, 1], "range": [67, 568]}, "axis": null},
        "y": {"field": "rad", "type": "quantitative", "scale": {"domain": [0, 14], "range": [688, 907.1], "nice": false, "zero": false}, "axis": null},
        "text": {"field": "tekst"}
      }
    },
    {
      "data": {"name": "brodtekst"},
      "transform": [{"filter": "!datum.avsnitt"}],
      "mark": {"type": "text", "align": "left", "baseline": "middle", "font": "Liberation Serif", "fontSize": 15.5, "color": "#141414"},
      "encoding": {
        "x": {"field": "spalte", "type": "quantitative", "scale": {"domain": [0, 2], "range": [52, 628], "nice": false, "zero": false}, "axis": null},
        "y": {"field": "linje", "type": "quantitative", "scale": {"domain": [0, 67], "range": [81, 1237.4], "nice": false, "zero": false}, "axis": null},
        "text": {"field": "tekst"}
      }
    },
    {
      "data": {"name": "brodtekst"},
      "transform": [{"filter": "datum.avsnitt"}],
      "mark": {"type": "text", "align": "left", "baseline": "middle", "font": "Liberation Serif", "fontSize": 15.5, "color": "#141414", "dx": 15.5},
      "encoding": {
        "x": {"field": "spalte", "type": "quantitative", "scale": {"domain": [0, 2], "range": [52, 628], "nice": false, "zero": false}, "axis": null},
        "y": {"field": "linje", "type": "quantitative", "scale": {"domain": [0, 67], "range": [81, 1237.4], "nice": false, "zero": false}, "axis": null},
        "text": {"field": "tekst"}
      }
    },
    {
      "data": {"name": "sidefot"},
      "transform": [{"filter": "datum.felt == 'side'"}],
      "mark": {"type": "text", "align": "left", "baseline": "middle", "font": "Liberation Sans", "fontSize": 13, "color": "#222222"},
      "encoding": {
        "x": {"datum": 0, "type": "quantitative", "scale": {"domain": [0, 1], "range": [53, 54]}, "axis": null},
        "y": {"datum": 0, "type": "quantitative", "scale": {"domain": [0, 1], "range": [1272, 1273]}, "axis": null},
        "text": {"field": "tekst"}
      }
    },
    {
      "data": {"name": "sidefot"},
      "transform": [{"filter": "datum.felt == 'midt'"}],
      "mark": {"type": "text", "align": "center", "baseline": "middle", "font": "Liberation Sans", "fontSize": 12.9, "color": "#444444"},
      "encoding": {
        "x": {"datum": 0, "type": "quantitative", "scale": {"domain": [0, 1], "range": [480, 481]}, "axis": null},
        "y": {"field": "linje", "type": "quantitative", "scale": {"domain": [0, 1], "range": [1266, 1281], "nice": false, "zero": false}, "axis": null},
        "text": {"field": "tekst"}
      }
    },
    {
      "data": {"name": "sidefot"},
      "transform": [{"filter": "datum.felt == 'ref'"}],
      "mark": {"type": "text", "align": "left", "baseline": "middle", "font": "Liberation Sans", "fontSize": 9.5, "color": "#333333"},
      "encoding": {
        "x": {"datum": 0, "type": "quantitative", "scale": {"domain": [0, 1], "range": [729, 730]}, "axis": null},
        "y": {"datum": 0, "type": "quantitative", "scale": {"domain": [0, 1], "range": [1273, 1274]}, "axis": null},
        "text": {"field": "tekst"}
      }
    }
  ]
}
